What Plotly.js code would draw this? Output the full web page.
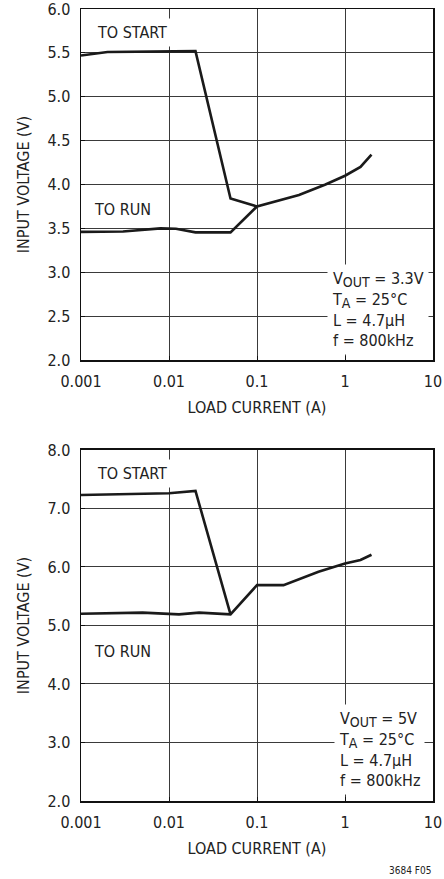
<!DOCTYPE html>
<html>
<head>
<meta charset="utf-8">
<script src="https://cdn.plot.ly/plotly-3.0.1.min.js"></script>
<style>
html,body{margin:0;padding:0;background:#fff;}
#chart{width:444px;height:879px;}
</style>
</head>
<body>
<div id="chart"></div>
<script>
// Top chart: VOUT = 3.3V
var topStartX = [0.001, 0.002, 0.02, 0.05, 0.1];
var topStartY = [5.47, 5.51, 5.52, 3.84, 3.75];
var topRunX = [0.001, 0.003, 0.008, 0.012, 0.02, 0.05, 0.1, 0.3, 0.6, 1, 1.5, 2];
var topRunY = [3.46, 3.465, 3.5, 3.495, 3.455, 3.455, 3.75, 3.88, 4.0, 4.1, 4.2, 4.34];

// Bottom chart: VOUT = 5V
var botStartX = [0.001, 0.005, 0.01, 0.02, 0.05];
var botStartY = [7.23, 7.25, 7.26, 7.30, 5.19];
var botRunX = [0.001, 0.005, 0.013, 0.022, 0.05, 0.1, 0.2, 0.5, 1, 1.5, 2];
var botRunY = [5.2, 5.22, 5.19, 5.22, 5.19, 5.69, 5.69, 5.92, 6.06, 6.12, 6.21];

var xTickVals = [0.001, 0.01, 0.1, 1, 10];
var xTickText = ["0.001", "0.01", "0.1", "1", "10"];
var topYTicks = [2.0, 2.5, 3.0, 3.5, 4.0, 4.5, 5.0, 5.5, 6.0];
var botYTicks = [2.0, 3.0, 4.0, 5.0, 6.0, 7.0, 8.0];

var FONT = "'Liberation Sans Narrow', 'DejaVu Sans Condensed', 'Arial Narrow', sans-serif";
var lineStyle = {color: '#1a1a1a', width: 2.6};

var traces = [
  {x: topStartX, y: topStartY, xaxis: 'x', yaxis: 'y', mode: 'lines', line: lineStyle, hoverinfo: 'skip'},
  {x: topRunX, y: topRunY, xaxis: 'x', yaxis: 'y', mode: 'lines', line: lineStyle, hoverinfo: 'skip'},
  {x: botStartX, y: botStartY, xaxis: 'x2', yaxis: 'y2', mode: 'lines', line: lineStyle, hoverinfo: 'skip'},
  {x: botRunX, y: botRunY, xaxis: 'x2', yaxis: 'y2', mode: 'lines', line: lineStyle, hoverinfo: 'skip'}
];

function xAxis(anchor) {
  return {
    type: 'log', range: [-3, 1], anchor: anchor,
    tickvals: xTickVals, ticktext: xTickText,
    showgrid: true, gridcolor: '#3a3a3a', gridwidth: 1,
    showline: true, linecolor: '#111', linewidth: 1.5, mirror: true,
    ticks: 'inside', ticklen: 4, tickcolor: '#111',
    zeroline: false,
    tickfont: {family: FONT, size: 16, color: '#222'},
    ticklabelstandoff: 6, ticklabeloverflow: 'allow',
    title: {text: 'LOAD CURRENT (A)', font: {family: FONT, size: 16, color: '#222'}, standoff: 12}
  };
}
function yAxis(anchor, range, ticks, domain) {
  return {
    range: range, anchor: anchor, domain: domain,
    tickvals: ticks, ticktext: ticks.map(function(v){return v.toFixed(1);}),
    showgrid: true, gridcolor: '#3a3a3a', gridwidth: 1,
    showline: true, linecolor: '#111', linewidth: 1.5, mirror: true,
    ticks: 'inside', ticklen: 4, tickcolor: '#111',
    zeroline: false,
    tickfont: {family: FONT, size: 16, color: '#222'},
    ticklabelstandoff: 6, ticklabeloverflow: 'allow',
    title: {text: 'INPUT VOLTAGE (V)', font: {family: FONT, size: 16, color: '#222'}, standoff: 14}
  };
}

var txt = {family: FONT, size: 16, color: '#222'};
var SUB = function(s){ return '<sub><span style="font-size:14px">' + s + '</span></sub>'; };
var annotations = [
  {xref: 'x', yref: 'y', x: -2.87, y: 5.73, text: 'TO START', showarrow: false, xanchor: 'left', font: txt, bgcolor: '#fff', borderpad: 4},
  {xref: 'x', yref: 'y', x: -2.87, y: 3.72, text: 'TO RUN', showarrow: false, xanchor: 'left', font: txt},
  {xref: 'x', yref: 'y', x: -0.2, y: 2.06, text: 'V' + SUB('OUT') + ' = 3.3V<br>T' + SUB('A') + ' = 25°C<br>L = 4.7µH<br>f = 800kHz', showarrow: false, xanchor: 'left', yanchor: 'bottom', align: 'left', font: txt, bgcolor: '#fff', borderpad: 4},
  {xref: 'x2', yref: 'y2', x: -2.87, y: 7.6, text: 'TO START', showarrow: false, xanchor: 'left', font: txt, bgcolor: '#fff', borderpad: 4},
  {xref: 'x2', yref: 'y2', x: -2.87, y: 4.55, text: 'TO RUN', showarrow: false, xanchor: 'left', font: txt},
  {xref: 'x2', yref: 'y2', x: -0.12, y: 2.1, text: 'V' + SUB('OUT') + ' = 5V<br>T' + SUB('A') + ' = 25°C<br>L = 4.7µH<br>f = 800kHz', showarrow: false, xanchor: 'left', yanchor: 'bottom', align: 'left', font: txt, bgcolor: '#fff', borderpad: 4},
  {xref: 'paper', yref: 'paper', x: 1.0, y: -0.088, text: '3684 F05', showarrow: false, xanchor: 'right', yanchor: 'middle', font: {family: FONT, size: 10, color: '#222'}}
];

var layout = {
  width: 444, height: 879,
  margin: {l: 81, r: 11, t: 9, b: 78},
  paper_bgcolor: '#fff', plot_bgcolor: '#fff',
  showlegend: false,
  xaxis: xAxis('y'),
  yaxis: yAxis('x', [2, 6], topYTicks, [0.5568, 1]),
  xaxis2: xAxis('y2'),
  yaxis2: yAxis('x2', [2, 8], botYTicks, [0, 0.4432]),
  annotations: annotations
};

Plotly.newPlot('chart', traces, layout, {staticPlot: true, displayModeBar: false});
</script>
</body>
</html>
